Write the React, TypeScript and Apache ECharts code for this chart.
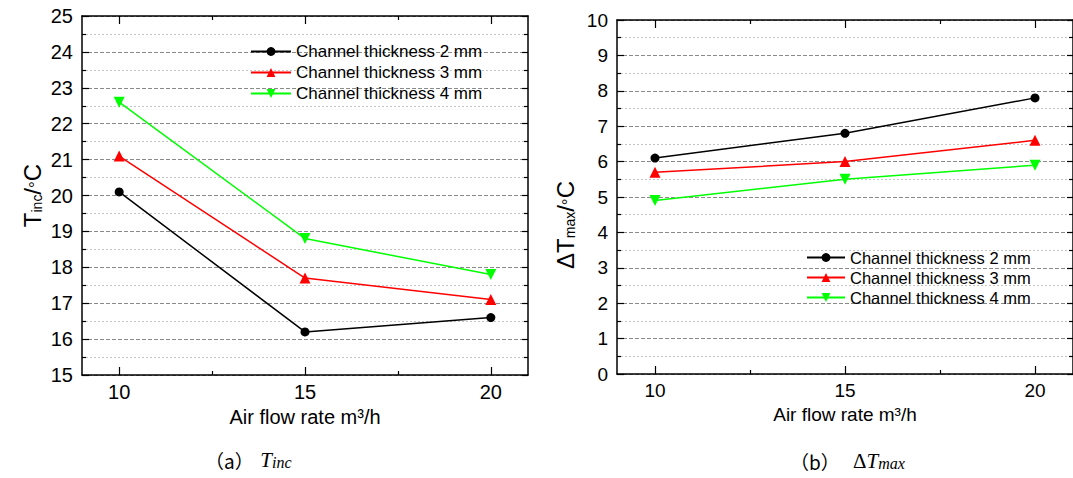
import React, { useEffect, useRef } from "react";
import * as echarts from "echarts";

const airFlow = [10, 15, 20];
const seriesNames = ["Channel thickness 2 mm", "Channel thickness 3 mm", "Channel thickness 4 mm"];
const tinc2mm = [20.1, 16.2, 16.6];
const tinc3mm = [21.1, 17.7, 17.1];
const tinc4mm = [22.6, 18.8, 17.8];
const dtmax2mm = [6.1, 6.8, 7.8];
const dtmax3mm = [5.7, 6.0, 6.6];
const dtmax4mm = [4.9, 5.5, 5.9];
const xMajorTicks = [10, 15, 20];
const xMinorTicks = [12.5, 17.5];

const FONT = "'Liberation Sans', Arial, sans-serif";
const SERIF = "'Liberation Serif', 'DejaVu Serif', serif";
const CJK = "'Noto Sans CJK SC', sans-serif";
const colors = ["#000000", "#ff0000", "#00ff00"];
const symbols = ["circle", "triangle", "path://M0,0 L10,0 L5,9 Z"];
const symbolSizes = [9, 11, 11];

function xAxesFor(gridIndex: number, nameSize: number, labelSize: number) {
  const base = {
    type: "value",
    gridIndex,
    min: 9,
    max: 21,
    splitLine: { show: false },
  };
  return [
    {
      ...base,
      position: "bottom",
      name: "Air flow rate m³/h",
      nameLocation: "middle",
      nameGap: 27,
      nameTextStyle: { fontFamily: FONT, fontSize: nameSize, color: "#000" },
      axisLine: { show: true, lineStyle: { color: "#000", width: 1.5 } },
      axisTick: { show: true, inside: true, length: 8, customValues: xMajorTicks, lineStyle: { color: "#000", width: 1.2 } },
      axisLabel: { show: true, customValues: xMajorTicks, margin: 7, fontFamily: FONT, fontSize: labelSize, color: "#000" },
    },
    {
      ...base,
      position: "bottom",
      axisLine: { show: false },
      axisTick: { show: true, inside: true, length: 4, customValues: xMinorTicks, lineStyle: { color: "#000", width: 1.2 } },
      axisLabel: { show: false },
    },
    {
      ...base,
      position: "top",
      axisLine: { show: true, lineStyle: { color: "#000", width: 1.5 } },
      axisTick: { show: true, inside: true, length: 8, customValues: xMajorTicks, lineStyle: { color: "#000", width: 1.2 } },
      axisLabel: { show: false },
    },
    {
      ...base,
      position: "top",
      axisLine: { show: false },
      axisTick: { show: true, inside: true, length: 4, customValues: xMinorTicks, lineStyle: { color: "#000", width: 1.2 } },
      axisLabel: { show: false },
    },
  ];
}

function yAxesFor(
  gridIndex: number,
  min: number,
  max: number,
  nameRich: string,
  nameGap: number,
  labelSize: number,
  namePadding: number[]
) {
  return [
    {
      type: "value",
      gridIndex,
      position: "left",
      min,
      max,
      interval: 1,
      name: nameRich,
      nameLocation: "middle",
      nameGap,
      nameTextStyle: {
        fontFamily: FONT,
        color: "#000",
        padding: namePadding,
        rich: {
          t: { fontFamily: FONT, fontSize: 24, lineHeight: 28, color: "#000", verticalAlign: "bottom" },
          s: { fontFamily: FONT, fontSize: 14, lineHeight: 13, color: "#000", verticalAlign: "bottom" },
          g: { fontFamily: FONT, fontSize: 17, lineHeight: 30, color: "#000", verticalAlign: "bottom" },
        },
      },
      axisLine: { show: true, lineStyle: { color: "#000", width: 1.5 } },
      axisTick: { show: true, inside: true, length: 7, lineStyle: { color: "#000", width: 1.2 } },
      minorTick: { show: true, splitNumber: 2, length: 4, lineStyle: { color: "#000", width: 1.2 } },
      axisLabel: { show: true, margin: 9, fontFamily: FONT, fontSize: labelSize, color: "#000" },
      splitLine: { show: true, lineStyle: { color: "#8a8a8a", type: [4, 2], width: 1 } },
      minorSplitLine: { show: true, lineStyle: { color: "#c4c4c4", type: [2, 2], width: 1 } },
    },
    {
      type: "value",
      gridIndex,
      position: "right",
      min,
      max,
      interval: 1,
      axisLine: { show: true, lineStyle: { color: "#000", width: 1.5 } },
      axisTick: { show: true, inside: true, length: 6, lineStyle: { color: "#000", width: 1.2 } },
      minorTick: { show: true, splitNumber: 2, length: 4, lineStyle: { color: "#000", width: 1.2 } },
      axisLabel: { show: false },
      splitLine: { show: false },
    },
  ];
}

function makeSeries(values: number[][], xAxisIndex: number, yAxisIndex: number) {
  return values.map((vals, i) => ({
    type: "line",
    name: seriesNames[i],
    xAxisIndex,
    yAxisIndex,
    data: airFlow.map((x, j) => [x, vals[j]]),
    symbol: symbols[i],
    symbolSize: symbolSizes[i],
    showAllSymbol: true,
    lineStyle: { color: colors[i], width: 1.5 },
    itemStyle: { color: colors[i] },
    emphasis: { disabled: true },
  }));
}

const captionRich = {
  p: { fontFamily: CJK, fontSize: 19, fill: "#000", verticalAlign: "bottom", lineHeight: 24 },
  u: { fontFamily: SERIF, fontSize: 21, fill: "#000", verticalAlign: "bottom", lineHeight: 24 },
  i: { fontFamily: SERIF, fontStyle: "italic", fontSize: 21, fill: "#000", verticalAlign: "bottom", lineHeight: 24 },
  j: { fontFamily: SERIF, fontStyle: "italic", fontSize: 16, fill: "#000", verticalAlign: "bottom", lineHeight: 18 },
};

export default function App() {
  const ref = useRef<HTMLDivElement>(null);
  useEffect(() => {
    if (!ref.current) return;
    const chart = echarts.init(ref.current, undefined, { renderer: "svg" });
    const option: any = {
      animation: false,
      backgroundColor: "#ffffff",
      grid: [
        { left: 82, top: 16, width: 446, height: 359 },
        { left: 617, top: 20, width: 460, height: 354 },
      ],
      xAxis: [...xAxesFor(0, 20, 20), ...xAxesFor(1, 19, 19)],
      yAxis: [
        ...yAxesFor(0, 15, 25, "{t|T}{s|inc}{t|/}{g|°}{t|C}", 38, 20, [0, 0, 0, 0]),
        ...yAxesFor(1, 0, 10, "{t|ΔT}{s|max}{t|/}{g|°}{t|C}", 40, 19, [0, 56, 0, 0]),
      ],
      legend: [
        {
          orient: "vertical",
          left: 245,
          top: 38,
          itemWidth: 40,
          itemHeight: 11,
          itemGap: 4,
          data: seriesNames,
          textStyle: { fontFamily: FONT, fontSize: 17, color: "#000" },
          selectedMode: false,
        },
        {
          orient: "vertical",
          left: 801,
          top: 244,
          itemWidth: 38,
          itemHeight: 11,
          itemGap: 3,
          data: seriesNames,
          textStyle: { fontFamily: FONT, fontSize: 16.5, color: "#000" },
          selectedMode: false,
        },
      ],
      series: [
        ...makeSeries([tinc2mm, tinc3mm, tinc4mm], 0, 0),
        ...makeSeries([dtmax2mm, dtmax3mm, dtmax4mm], 4, 2),
      ],
      graphic: [
        {
          type: "text",
          left: 205,
          top: 449,
          style: { text: "{p|（a）}  {i|T}{j|inc}", rich: captionRich },
        },
        {
          type: "text",
          left: 790,
          top: 450,
          style: { text: "{p|（b）}    {u|Δ}{i|T}{j|max}", rich: captionRich },
        },
      ],
    };
    chart.setOption(option);
    return () => chart.dispose();
  }, []);
  return (
    <div style={{ position: "absolute", left: 0, top: 0, width: 1073, height: 478, overflow: "hidden", background: "#fff" }}>
      <div ref={ref} style={{ width: 1073, height: 478 }} />
    </div>
  );
}
